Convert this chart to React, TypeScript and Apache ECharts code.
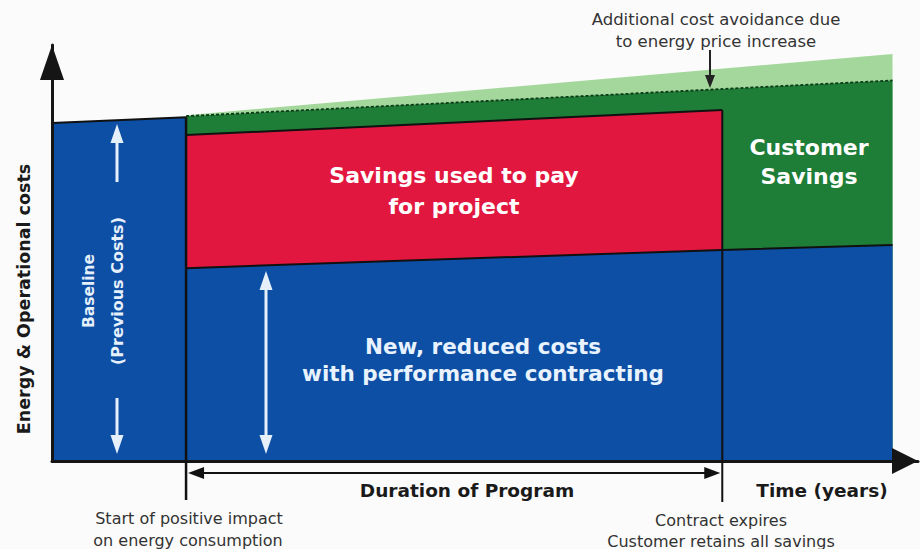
import React, { useEffect, useRef } from "react";
import * as echarts from "echarts";

// ---- data (time in years, cost as % of the original baseline) ----
const baselineYears = [0, 1];
const baselineCosts = [98.3, 100];
const projectionYears = [1, 6.27];
const escalatedBaseline = [100.6, 118.4]; // baseline incl. energy price increase
const originalBaseline = [100.3, 110.7]; // baseline at original prices (dashed)
const contractYears = [1, 5];
const paymentCeiling = [94.8, 102.1]; // top of "savings used to pay for project"
const reducedYears = [1, 5, 6.27];
const reducedCosts = [56.1, 61.4, 62.8]; // new, reduced costs
const milestones = [1, 5]; // start of positive impact, contract expires
const X_MAX = 6.46;
const Y_MAX = 121;

const BLUE = "#0c4fa5";
const RED = "#e2173f";
const GREEN = "#1e7d37";
const LIGHT_GREEN = "#a4d79b";
const WHITE_ARROW = "#e6f0fb";
const FONT = "'DejaVu Sans', 'Liberation Sans', Arial, sans-serif";

const zip = (xs: number[], ys: number[]) => xs.map((x, i) => [x, ys[i]]);

const area = (name: string, xs: number[], ys: number[], fill: string, line?: any) => ({
  type: "line",
  name,
  data: zip(xs, ys),
  symbol: "none",
  clip: false,
  silent: true,
  lineStyle: line ?? { width: 0, opacity: 0 },
  areaStyle: { color: fill, opacity: 1 },
});

export default function App() {
  const ref = useRef<HTMLDivElement>(null);
  useEffect(() => {
    if (!ref.current) return;
    const chart = echarts.init(ref.current, undefined, { renderer: "svg" });
    chart.setOption({
      animation: false,
      backgroundColor: "#fbfbfb",
      grid: { left: 52, right: 2, top: 45, bottom: 88 },
      xAxis: {
        type: "value",
        min: 0,
        max: X_MAX,
        z: 10,
        axisLine: {
          show: true,
          lineStyle: { color: "#151515", width: 3 },
          symbol: ["none", "triangle"],
          symbolSize: [26, 26],
          symbolOffset: [0, -13],
        },
        axisTick: { show: false },
        axisLabel: { show: false },
        splitLine: { show: false },
      },
      yAxis: {
        type: "value",
        min: 0,
        max: Y_MAX,
        z: 10,
        axisLine: {
          show: true,
          lineStyle: { color: "#151515", width: 3 },
          symbol: ["none", "triangle"],
          symbolSize: [24, 35],
          symbolOffset: [0, -17.5],
        },
        axisTick: { show: false },
        axisLabel: { show: false },
        splitLine: { show: false },
      },
      series: [
        area("Additional cost avoidance", projectionYears, escalatedBaseline, LIGHT_GREEN),
        area("Customer savings", projectionYears, originalBaseline, GREEN, {
          color: "#0c3a18",
          width: 1.8,
          type: [3, 2],
        }),
        area("Savings used to pay for project", contractYears, paymentCeiling, RED, {
          color: "#111",
          width: 2,
        }),
        area("New, reduced costs", reducedYears, reducedCosts, BLUE, { color: "#111", width: 2 }),
        area("Baseline", baselineYears, baselineCosts, BLUE, { color: "#111", width: 2 }),
      ],
    });

    const px = (x: number, y: number) => chart.convertToPixel({ gridIndex: 0 }, [x, y]) as number[];
    const [m1x, m1top] = px(milestones[0], baselineCosts[1]);
    const [m2x, m2top] = px(milestones[1], paymentCeiling[1]);

    const line = (x1: number, y1: number, x2: number, y2: number, stroke: string, w: number) => ({
      type: "line",
      silent: true,
      z: 20,
      shape: { x1, y1, x2, y2 },
      style: { stroke, lineWidth: w },
    });
    const tri = (points: number[][], fill: string) => ({
      type: "polygon",
      silent: true,
      z: 20,
      shape: { points },
      style: { fill },
    });
    const text = (
      t: string,
      x: number,
      y: number,
      size: number,
      color: string,
      bold: boolean,
      rotation = 0
    ) => ({
      type: "text",
      silent: true,
      z: 30,
      x,
      y,
      rotation,
      style: {
        text: t,
        fill: color,
        font: `${bold ? "bold " : ""}${size}px ${FONT}`,
        textAlign: "center",
        textVerticalAlign: "middle",
      },
    });

    const durY = 473;
    const ax = 117; // baseline arrows column
    const bx = 266; // reduced-costs double arrow

    chart.setOption({
      graphic: [
        // milestone separators
        line(m1x, m1top, m1x, 500, "#111", 2.5),
        line(m2x, m2top, m2x, 502, "#111", 2),
        // duration arrow
        line(m1x + 14, durY, m2x - 14, durY, "#111", 2),
        tri([[m1x + 2, durY], [m1x + 18, durY - 6], [m1x + 18, durY + 6]], "#111"),
        tri([[m2x - 2, durY], [m2x - 18, durY - 6], [m2x - 18, durY + 6]], "#111"),
        // baseline white arrows
        line(ax, 182, ax, 138, WHITE_ARROW, 3),
        tri([[ax, 124], [ax - 6.5, 143], [ax + 6.5, 143]], WHITE_ARROW),
        line(ax, 398, ax, 440, WHITE_ARROW, 3),
        tri([[ax, 454], [ax - 6.5, 435], [ax + 6.5, 435]], WHITE_ARROW),
        // double arrow in reduced costs
        line(bx, 285, bx, 440, WHITE_ARROW, 3),
        tri([[bx, 271], [bx - 6.5, 290], [bx + 6.5, 290]], WHITE_ARROW),
        tri([[bx, 454], [bx - 6.5, 435], [bx + 6.5, 435]], WHITE_ARROW),
        // small pointer arrow for cost avoidance
        line(710, 50, 710, 78, "#222", 2),
        tri([[710, 88], [705, 75], [715, 75]], "#222"),
        // texts
        text("Additional cost avoidance due", 716, 19, 16.5, "#333", false),
        text("to energy price increase", 716, 41, 16.5, "#333", false),
        text("Customer", 809, 147, 22, "#ffffff", true),
        text("Savings", 809, 176, 22, "#ffffff", true),
        text("Savings used to pay", 454, 175, 22, "#ffffff", true),
        text("for project", 454, 206, 22, "#ffffff", true),
        text("New, reduced costs", 483, 346, 21.5, "#e8f3ff", true),
        text("with performance contracting", 483, 373, 21.5, "#e8f3ff", true),
        text("Baseline", 89, 291, 15.5, "#e6f0fb", true, Math.PI / 2),
        text("(Previous Costs)", 117, 291, 16, "#e6f0fb", true, Math.PI / 2),
        text("Energy & Operational costs", 24, 299, 17.5, "#1a1a1a", true, Math.PI / 2),
        text("Duration of Program", 467, 490, 18.5, "#1a1a1a", true),
        text("Time (years)", 822, 490, 18.5, "#1a1a1a", true),
        text("Start of positive impact", 189, 518, 16, "#333", false),
        text("on energy consumption", 188, 540, 16, "#333", false),
        text("Contract expires", 721, 520, 16, "#333", false),
        text("Customer retains all savings", 721, 541, 16, "#333", false),
      ],
    });

    return () => chart.dispose();
  }, []);

  return (
    <div
      ref={ref}
      style={{ position: "fixed", left: 0, top: 0, width: 920, height: 549 }}
    />
  );
}
